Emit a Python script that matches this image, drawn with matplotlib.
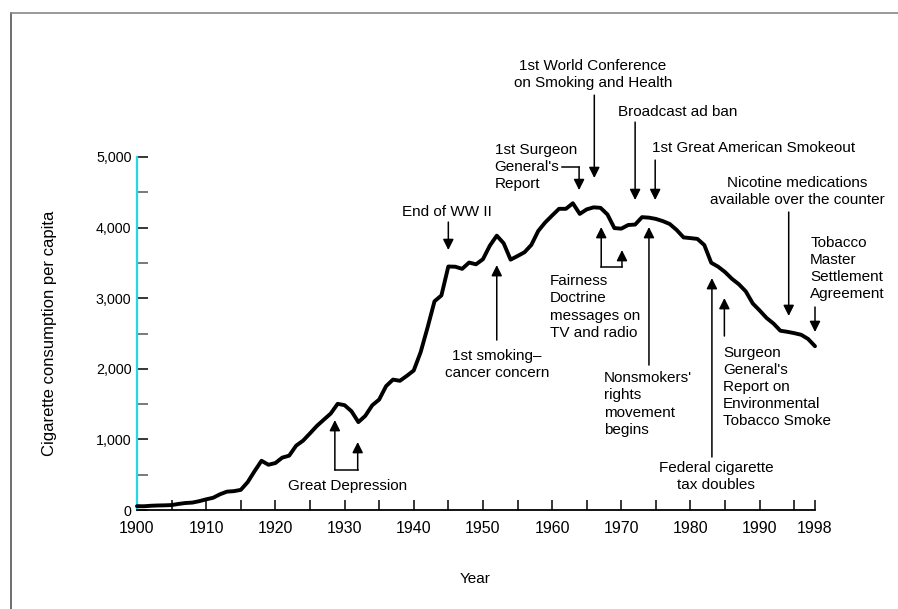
import matplotlib
matplotlib.use("Agg")
import matplotlib.pyplot as plt
from matplotlib.lines import Line2D

plt.rcParams['font.family'] = ['Liberation Sans', 'DejaVu Sans']
plt.rcParams['font.size'] = 10

# ---- data: US per-capita cigarette consumption ----
years = list(range(1900, 1999))
consumption = [54, 53, 60, 64, 66, 70, 86, 99, 105, 125,
               151, 173, 223, 260, 267, 285, 395, 551, 697, 641,
               665, 742, 770, 911, 982, 1085, 1191, 1279, 1366, 1504,
               1485, 1399, 1245, 1334, 1483, 1564, 1754, 1847, 1830, 1900,
               1976, 2236, 2585, 2956, 3039, 3449, 3446, 3416, 3505, 3480,
               3552, 3744, 3886, 3778, 3546, 3597, 3650, 3755, 3953, 4073,
               4171, 4266, 4266, 4345, 4194, 4258, 4287, 4280, 4186, 3993,
               3985, 4037, 4043, 4148, 4141, 4123, 4092, 4051, 3967, 3861,
               3851, 3840, 3753, 3502, 3446, 3370, 3274, 3197, 3096, 2926,
               2826, 2720, 2641, 2539, 2524, 2505, 2482, 2423, 2320]

xtick_pos = [1900, 1910, 1920, 1930, 1940, 1950, 1960, 1970, 1980, 1990, 1998]
xtick_labels = ['1900', '1910', '1920', '1930', '1940', '1950', '1960',
                '1970', '1980', '1990', '1998']
xminor_pos = [1905, 1915, 1925, 1935, 1945, 1955, 1965, 1975, 1985, 1995]
ytick_pos = [0, 1000, 2000, 3000, 4000, 5000]
ytick_labels = ['0', '1,000', '2,000', '3,000', '4,000', '5,000']
yminor_pos = [500, 1500, 2500, 3500, 4500]

FS = 11
LS = 1.28

fig = plt.figure(figsize=(8.98, 6.09), dpi=100)
ax = fig.add_axes([137/898, 99/609, 678/898, 353/609])

ax.plot(years, consumption, color='black', lw=2.8, solid_capstyle='round',
        solid_joinstyle='round', clip_on=False, zorder=3)

ax.set_xlim(1900, 1998)
ax.set_ylim(0, 5000)

for s in ['top', 'right']:
    ax.spines[s].set_visible(False)
ax.spines['left'].set_color('#22d8ea')
ax.spines['left'].set_linewidth(1.6)
ax.spines['bottom'].set_color('black')
ax.spines['bottom'].set_linewidth(1.3)

ax.set_xticks(xtick_pos)
ax.set_xticklabels(xtick_labels)
ax.set_xticks(xminor_pos, minor=True)
ax.set_yticks(ytick_pos)
ax.set_yticklabels(ytick_labels)
ax.set_yticks(yminor_pos, minor=True)
ax.tick_params(axis='x', which='both', direction='in', length=7, width=1.1,
               pad=8, labelsize=11.5)
ax.tick_params(axis='y', which='both', direction='in', length=8, width=1.1,
               pad=4, labelsize=10.3)
ax.tick_params(axis='y', which='minor', color='#555555')

ax.text(-0.1297, 0.5, 'Cigarette consumption per capita', rotation=90,
        ha='center', va='center', transform=ax.transAxes, fontsize=12)
ax.text(0.4985, -0.1955, 'Year', ha='center', va='center',
        transform=ax.transAxes, fontsize=FS)

AP = dict(arrowstyle='-|>', color='black', lw=1.1, mutation_scale=16,
          shrinkA=0, shrinkB=0)


def arrow(x, y_from, y_to):
    ax.annotate('', xy=(x, y_to), xytext=(x, y_from), arrowprops=AP,
                annotation_clip=False, zorder=4)


def seg(xs, ys):
    ax.plot(xs, ys, color='black', lw=1.1, clip_on=False, zorder=4)


def label(x, y, s, ha='left'):
    ax.text(x, y, s, ha=ha, va='center', fontsize=FS, clip_on=False,
            linespacing=LS, multialignment=ha)


# Great Depression
seg([1928.6, 1931.9], [566, 566])
arrow(1928.6, 566, 1274)
arrow(1931.9, 566, 963)
label(1930.5, 340, 'Great Depression', ha='center')

# End of WW II
arrow(1945.0, 4078, 3682)
label(1944.8, 4220, 'End of WW II', ha='center')

# 1st smoking-cancer concern
arrow(1952.0, 2407, 3469)
label(1952.0, 2067, '1st smoking\u2013\ncancer concern', ha='center')

# Fairness Doctrine
seg([1967.1, 1970.1], [3442, 3442])
arrow(1967.1, 3442, 4008)
arrow(1970.1, 3442, 3682)
label(1959.7, 2875, 'Fairness\nDoctrine\nmessages on\nTV and radio')

# Nonsmokers' rights
arrow(1974.0, 2053, 4008)
label(1967.5, 1501, "Nonsmokers'\nrights\nmovement\nbegins")

# Federal cigarette tax doubles
arrow(1983.1, 751, 3285)
label(1983.7, 481, 'Federal cigarette\ntax doubles', ha='center')

# Surgeon General's Report on ETS
arrow(1984.9, 2464, 3002)
label(1984.7, 1742, "Surgeon\nGeneral's\nReport on\nEnvironmental\nTobacco Smoke")

# Nicotine medications
arrow(1994.2, 4220, 2748)
label(1995.4, 4517, 'Nicotine medications\navailable over the counter', ha='center')

# Tobacco Master Settlement Agreement
arrow(1998.0, 2875, 2521)
label(1997.3, 3420, 'Tobacco\nMaster\nSettlement\nAgreement')

# 1st Great American Smokeout
arrow(1974.9, 4956, 4390)
label(1974.4, 5126, '1st Great American Smokeout')

# Broadcast ad ban
arrow(1972.0, 5494, 4390)
label(1969.5, 5636, 'Broadcast ad ban')

# 1st World Conference
arrow(1966.1, 5876, 4702)
label(1965.9, 6174, '1st World Conference\non Smoking and Health', ha='center')

# 1st Surgeon General's Report
seg([1961.4, 1963.9], [4858, 4858])
arrow(1963.9, 4858, 4531)
label(1951.7, 4858, "1st Surgeon\nGeneral's\nReport")

# page frame (left and top edges)
fig.add_artist(Line2D([11/898, 11/898], [0, 1 - 13/609], transform=fig.transFigure,
                      color='#555555', lw=1.2))
fig.add_artist(Line2D([11/898, 1], [1 - 13/609, 1 - 13/609], transform=fig.transFigure,
                      color='#888888', lw=1.2))

fig.savefig('out.png', dpi=100)
